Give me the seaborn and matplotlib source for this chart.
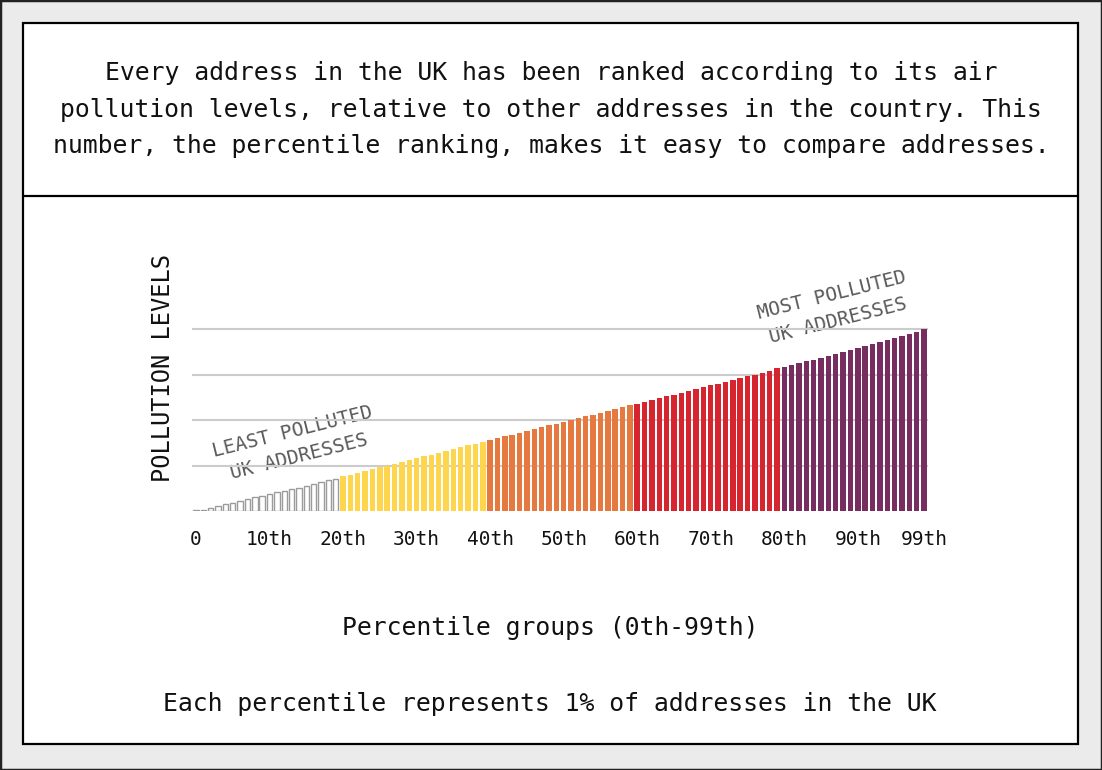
import numpy as np
import pandas as pd
import matplotlib
matplotlib.use("Agg")
import matplotlib.pyplot as plt
import seaborn as sns
from matplotlib.patches import Rectangle
from matplotlib.lines import Line2D

# ---- data -------------------------------------------------------------
percentiles = list(range(100))
values_0_19 = [0.3, 0.8, 1.7, 2.6, 3.6, 4.6, 5.5, 6.5, 7.5, 8.4,
               9.3, 10.2, 11.1, 12.0, 12.9, 13.8, 14.8, 15.8, 16.8, 17.8]
values_20_39 = [19.0, 20.0, 21.0, 22.0, 23.0, 24.0, 25.0, 26.0, 27.0, 28.0,
                29.0, 30.0, 31.0, 32.0, 33.0, 34.0, 35.0, 36.0, 37.0, 38.0]
values_40_59 = [39.0, 40.0, 41.0, 42.0, 43.0, 44.0, 45.0, 46.0, 47.0, 48.0,
                49.0, 50.0, 51.0, 52.0, 53.0, 54.0, 55.0, 56.0, 57.0, 58.0]
values_60_79 = [59.0, 60.0, 61.0, 62.0, 63.0, 64.0, 65.0, 66.0, 67.0, 68.0,
                69.0, 70.0, 71.0, 72.0, 73.0, 74.0, 75.0, 76.0, 77.0, 78.3]
values_80_99 = [79.2, 80.2, 81.2, 82.2, 83.2, 84.3, 85.3, 86.4, 87.5, 88.6,
                89.7, 90.8, 91.9, 93.0, 94.1, 95.2, 96.3, 97.4, 98.6, 100.0]
group_names = ["0-19", "20-39", "40-59", "60-79", "80-99"]
group_colors = ["#ffffff", "#fdd64d", "#e6793f", "#d7252f", "#772d5f"]
tick_positions = [0, 10, 20, 30, 40, 50, 60, 70, 80, 90, 99]
tick_labels = ["0", "10th", "20th", "30th", "40th", "50th", "60th",
               "70th", "80th", "90th", "99th"]
grid_levels = [25, 50, 75, 100]

values = values_0_19 + values_20_39 + values_40_59 + values_60_79 + values_80_99
groups = [g for g in group_names for _ in range(20)]
df = pd.DataFrame({"pct": percentiles, "value": values, "group": groups})

# ---- figure -----------------------------------------------------------
W, H = 1102, 770
sns.set_theme(style="white")
plt.rcParams["font.family"] = ["DejaVu Sans Mono", "DejaVu Sans"]

fig = plt.figure(figsize=(W / 100, H / 100), dpi=100)
fig.patch.set_facecolor("#ebebeb")

def fx(px):
    return px / W

def fy(py):
    return 1 - py / H

# outer border
fig.patches.append(Rectangle((0, 0), 1, 1, transform=fig.transFigure,
                             fill=False, edgecolor="#222222", linewidth=2.5, zorder=-10))
# inner white panel
fig.patches.append(Rectangle((fx(23), fy(744)), fx(1078) - fx(23), fy(23) - fy(744),
                             transform=fig.transFigure, facecolor="white",
                             edgecolor="black", linewidth=1.6, zorder=-10))
fig.lines.append(Line2D([fx(23), fx(1078)], [fy(196), fy(196)],
                        transform=fig.transFigure, color="black", linewidth=1.6,
                        zorder=-9))

# axes
left, right = 192.3, 927.7
ymax = 101
base, top100 = 511, 329
top = base - (base - top100) * ymax / 100
ax = fig.add_axes([fx(left), fy(base), fx(right) - fx(left), fy(top) - fy(base)])
ax.set_zorder(5)
ax.set_facecolor("none")

sns.barplot(data=df, x="pct", y="value", hue="group", palette=group_colors,
            dodge=False, width=0.74, native_scale=True, legend=False,
            ax=ax, saturation=1, linewidth=0)

# outlined first group
for bar in ax.containers[0]:
    bar.set_facecolor("white")
    bar.set_edgecolor("#9b9b9b")
    bar.set_linewidth(1.0)

ax.set_xlim(-0.5, 99.5)
ax.set_ylim(0, ymax)
ax.set_yticks(grid_levels)
ax.set_yticklabels([])
ax.yaxis.grid(True, color="#cccccc", linewidth=1.5)
ax.xaxis.grid(False)
ax.set_axisbelow(True)
for s in ax.spines.values():
    s.set_visible(False)
ax.set_xticks(tick_positions)
ax.set_xticklabels(tick_labels, fontsize=14, color="#111111")
ax.tick_params(axis="x", length=0, pad=14)
ax.tick_params(axis="y", length=0)
ax.set_xlabel("")
ax.set_ylabel("")

# texts
title_lines = ["Every address in the UK has been ranked according to its air",
               "pollution levels, relative to other addresses in the country. This",
               "number, the percentile ranking, makes it easy to compare addresses."]
for line, yb in zip(title_lines, [80, 117, 153]):
    fig.text(fx(551), fy(yb), line, ha="center", va="baseline",
             fontsize=17.8, color="#111111")

fig.text(fx(163), fy(368), "POLLUTION LEVELS", rotation=90, ha="center",
         va="center", fontsize=17, color="#111111")

fig.text(fx(550), fy(635), "Percentile groups (0th-99th)", ha="center",
         va="baseline", fontsize=17.8, color="#111111")
fig.text(fx(550), fy(711), "Each percentile represents 1% of addresses in the UK",
         ha="center", va="baseline", fontsize=17.8, color="#111111")

ann_color = "#5a5a5a"
fig.text(fx(292), fy(432), "LEAST POLLUTED", rotation=14, ha="center",
         va="center", fontsize=14, color=ann_color, rotation_mode="anchor")
fig.text(fx(299), fy(457), "UK ADDRESSES", rotation=14, ha="center",
         va="center", fontsize=14, color=ann_color, rotation_mode="anchor")
fig.text(fx(832), fy(295), "MOST POLLUTED", rotation=14, ha="center",
         va="center", fontsize=14, color=ann_color, rotation_mode="anchor")
fig.text(fx(838), fy(321), "UK ADDRESSES", rotation=14, ha="center",
         va="center", fontsize=14, color=ann_color, rotation_mode="anchor")

fig.savefig("out.png", dpi=100, facecolor=fig.get_facecolor())
